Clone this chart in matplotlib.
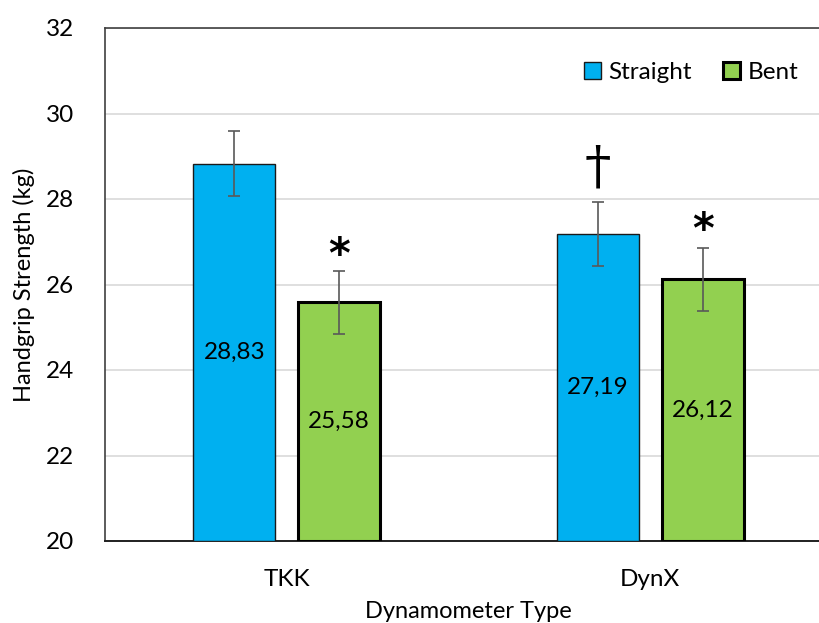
import matplotlib
matplotlib.use("Agg")
import matplotlib.pyplot as plt
import numpy as np

categories = ["TKK", "DynX"]
straight = [28.83, 27.19]
bent = [25.58, 26.12]
straight_err = [0.76, 0.75]
bent_err = [0.73, 0.74]
straight_labels = ["28,83", "27,19"]
bent_labels = ["25,58", "26,12"]
yticks = [20, 22, 24, 26, 28, 30, 32]

plt.rcParams['font.family'] = ['Lato', 'DejaVu Sans']

W, H = 819, 623
fig = plt.figure(figsize=(W/100, H/100), dpi=100)
left, right, top, bottom = 105, 832, 28, 541
ax = fig.add_axes([left/W, 1-bottom/H, (right-left)/W, (bottom-top)/H])

x = np.arange(len(categories))
bw = 0.226
off = 0.144
blue = "#00B0F0"
green = "#92D050"

ax.bar(x-off, np.array(straight)-20, bw, bottom=20, color=blue, edgecolor="#1a1a1a", linewidth=1.0, label="Straight", zorder=3)
ax.bar(x+off, np.array(bent)-20, bw, bottom=20, color=green, edgecolor="black", linewidth=2.2, label="Bent", zorder=3)
ax.errorbar(x-off, straight, yerr=straight_err, fmt="none", ecolor="#595959", elinewidth=1.2, capsize=4, capthick=1.2, zorder=4)
ax.errorbar(x+off, bent, yerr=bent_err, fmt="none", ecolor="#595959", elinewidth=1.2, capsize=4, capthick=1.2, zorder=4)

# value labels
for i in range(len(categories)):
    ax.text(x[i]-off, 20 + (straight[i]-20)*0.5, straight_labels[i], ha="center", va="center", fontsize=17.5, zorder=5)
    ax.text(x[i]+off, 20 + (bent[i]-20)*0.5, bent_labels[i], ha="center", va="center", fontsize=17.5, zorder=5)

# significance markers
ax.text(x[0]+off, bent[0]+bent_err[0]+0.36, "*", ha="center", va="center", fontsize=30, fontweight="bold", family="DejaVu Sans", zorder=5)
ax.text(x[1]+off, bent[1]+bent_err[1]+0.39, "*", ha="center", va="center", fontsize=30, fontweight="bold", family="DejaVu Sans", zorder=5)
ax.text(x[1]-off, straight[1]+straight_err[1]+0.78, "\u2020", ha="center", va="center", fontsize=38, family="DejaVu Serif", zorder=5)

ax.set_xlim(-0.5, 1.5)
ax.set_ylim(20, 32)
ax.set_yticks(yticks)
ax.set_xticks(x)
ax.set_xticklabels(categories)
ax.tick_params(axis="both", length=0, labelsize=17.5, colors="black")
ax.tick_params(axis="y", pad=22)
ax.tick_params(axis="x", pad=20)
ax.grid(axis="y", color="#D9D9D9", linewidth=1.2, zorder=0)
ax.set_axisbelow(True)
for s in ["left", "top"]:
    ax.spines[s].set_color("#404040")
    ax.spines[s].set_linewidth(1.2)
ax.spines["right"].set_visible(False)
ax.spines["bottom"].set_color("#202020")
ax.spines["bottom"].set_linewidth(1.4)

ax.set_ylabel("Handgrip Strength (kg)", fontsize=17, labelpad=8)
ax.set_xlabel("Dynamometer Type", fontsize=17, labelpad=8)

leg = ax.legend(loc="upper right", bbox_to_anchor=((808-left)/(right-left), 1-(52-top)/(bottom-top)),
                frameon=False, ncol=2, fontsize=17.5, handlelength=0.7, handleheight=0.7,
                handletextpad=0.3, columnspacing=1.3, borderaxespad=0)

fig.savefig("out.png", dpi=100)
